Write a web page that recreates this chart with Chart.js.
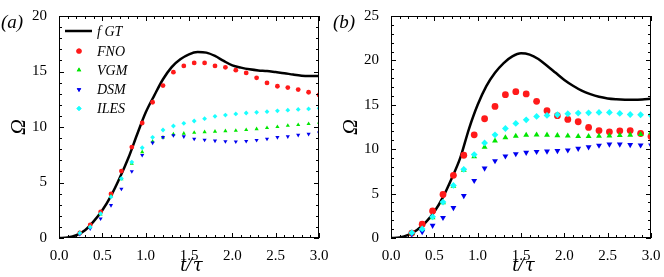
<!DOCTYPE html>
<html>
<head>
<meta charset="utf-8">
<script src="https://cdn.jsdelivr.net/npm/chart.js@4"></script>
<style>
  html, body { margin: 0; padding: 0; background: #fff; }
  .wrap { display: flex; width: 664px; height: 277px; }
  canvas { display: block; }
</style>
</head>
<body>
<div class="wrap">
  <canvas id="chartA" width="332" height="277"></canvas>
  <canvas id="chartB" width="332" height="277"></canvas>
</div>
<script>
// sample times of the model points and of the reference curve
const tPts = [0.24, 0.36, 0.48, 0.60, 0.72, 0.84, 0.96, 1.08, 1.20, 1.32, 1.44, 1.56,
              1.68, 1.80, 1.92, 2.04, 2.16, 2.28, 2.40, 2.52, 2.64, 2.76, 2.88, 3.00];
const tCurve = [0.0, 0.1, 0.2, 0.3, 0.4, 0.5, 0.6, 0.7, 0.8, 0.9, 1.0, 1.1, 1.2, 1.3, 1.4, 1.5,
                1.6, 1.7, 1.8, 1.9, 2.0, 2.1, 2.2, 2.3, 2.4, 2.5, 2.6, 2.7, 2.8, 2.9, 3.0];

// panel (a)
const fgtA = [0, 0.05, 0.25, 0.7, 1.5, 2.5, 3.8, 5.4, 7.2, 9.3, 11.3, 12.85, 14.3, 15.4, 16.1, 16.55,
              16.75, 16.7, 16.4, 15.95, 15.55, 15.35, 15.2, 15.1, 15.05, 14.95, 14.85, 14.72, 14.62, 14.6, 14.6];
const fnoA = [0.45, 1.17, 2.35, 3.97, 6.03, 8.19, 10.36, 12.23, 13.73, 14.94, 15.5, 15.77,
              15.77, 15.5, 15.38, 15.12, 14.87, 14.43, 13.97, 13.67, 13.55, 13.37, 13.13, 12.89];
const vgmA = [0.45, 1.0, 2.14, 3.77, 5.3, 6.7, 7.75, 8.7, 9.07, 9.35, 9.42, 9.5,
              9.55, 9.6, 9.64, 9.68, 9.75, 9.82, 9.92, 10.02, 10.12, 10.2, 10.28, 10.39];
const dsmA = [0.35, 0.85, 1.75, 2.95, 4.43, 6.0, 7.47, 8.58, 9.07, 9.25, 9.14, 8.93,
              8.84, 8.76, 8.7, 8.68, 8.73, 8.82, 8.93, 9.07, 9.14, 9.28, 9.37, 9.48];
const ilesA = [0.45, 0.99, 2.2, 3.7, 5.36, 6.84, 8.13, 9.07, 9.73, 10.09, 10.33, 10.54,
               10.75, 10.96, 11.07, 11.18, 11.26, 11.32, 11.38, 11.46, 11.52, 11.58, 11.63, 11.68];

// panel (b)
const fgtB = [0, 0.06, 0.35, 0.9, 1.75, 2.95, 4.6, 6.7, 9.05, 12.3, 15.0, 17.1, 18.6, 19.7, 20.45, 20.8,
              20.65, 20.15, 19.4, 18.6, 17.8, 17.15, 16.6, 16.2, 15.9, 15.72, 15.63, 15.58, 15.57, 15.6, 15.68];
const fnoB = [0.55, 1.55, 3.05, 4.9, 7.06, 9.32, 11.62, 13.43, 14.82, 16.14, 16.48, 16.22,
              15.39, 14.33, 13.77, 13.35, 13.09, 12.45, 12.1, 11.96, 12.07, 12.1, 11.77, 11.43];
const vgmB = [0.55, 1.0, 2.3, 3.98, 5.85, 7.66, 9.17, 10.23, 10.94, 11.31, 11.47, 11.58,
              11.62, 11.6, 11.55, 11.5, 11.45, 11.45, 11.48, 11.52, 11.56, 11.6, 11.68, 11.85];
const dsmB = [0.45, 0.68, 1.4, 2.3, 3.4, 4.75, 6.45, 7.85, 8.68, 9.21, 9.47, 9.62,
              9.72, 9.77, 9.82, 9.9, 10.08, 10.24, 10.42, 10.56, 10.55, 10.5, 10.45, 10.45];
const ilesB = [0.6, 1.02, 2.38, 4.04, 5.92, 7.73, 9.4, 10.71, 11.62, 12.33, 12.9, 13.31,
               13.69, 13.8, 13.88, 13.99, 14.07, 14.1, 14.14, 14.14, 14.03, 13.91, 13.88, 13.8];

const seriesNames = ['f GT', 'FNO', 'VGM', 'DSM', 'ILES'];
const xTickLabels = ['0.0', '0.5', '1.0', '1.5', '2.0', '2.5', '3.0'];

const SERIF = '"Liberation Serif", "DejaVu Serif", serif';
const colors = ['#000000', '#ff1a1a', '#00e600', '#0000f0', '#19ffff'];

function pairs(xs, ys) {
    return ys.map((y, i) => ({ x: xs[i], y: y }));
}

// box, inward ticks on all four sides, x title, panel tag and (optional) legend
const framePlugin = {
    id: 'frame',
    afterDraw(chart, args, opts) {
        const ctx = chart.ctx;
        const a = chart.chartArea;
        const xs = chart.scales.x, ys = chart.scales.y;
        ctx.save();
        ctx.strokeStyle = '#000';
        ctx.lineWidth = 1;
        ctx.strokeRect(a.left + 0.5, a.top + 0.5, a.right - a.left - 1, a.bottom - a.top - 1);
        ctx.beginPath();
        for (let i = 0; i <= 30; i++) {
            const v = i / 10;
            const px = Math.round(xs.getPixelForValue(v)) + 0.5;
            const len = i % 5 === 0 ? 5 : 3;
            ctx.moveTo(px, a.bottom); ctx.lineTo(px, a.bottom - len);
            ctx.moveTo(px, a.top); ctx.lineTo(px, a.top + len);
        }
        for (let v = 0; v <= ys.max; v++) {
            const py = Math.round(ys.getPixelForValue(v)) + 0.5;
            const len = v % 5 === 0 ? 5 : 3;
            ctx.moveTo(a.left, py); ctx.lineTo(a.left + len, py);
            ctx.moveTo(a.right, py); ctx.lineTo(a.right - len, py);
        }
        ctx.stroke();

        ctx.fillStyle = '#000';
        ctx.textBaseline = 'alphabetic';
        ctx.textAlign = 'left';

        // x axis title t/τ (τ taken from DejaVu Serif so it does not look like a t)
        const f1 = 'italic 21px ' + SERIF;
        const f2 = 'italic 18px "DejaVu Serif", serif';
        ctx.font = f1;
        const w1 = ctx.measureText('t/').width;
        ctx.font = f2;
        const w2 = ctx.measureText('τ').width;
        let x0 = (a.left + a.right) / 2 - (w1 + w2) / 2 + 2;
        ctx.font = f1;
        ctx.fillText('t/', x0, 271);
        ctx.font = f2;
        ctx.fillText('τ', x0 + w1 + 1, 271);

        ctx.font = 'italic 19px ' + SERIF;
        ctx.fillText(opts.tag, 1, 28);

        if (opts.legend) {
            const rows = [31, 51, 70, 89.5, 108.5];
            ctx.font = 'italic 14px ' + SERIF;
            ctx.textBaseline = 'middle';
            chart.data.datasets.forEach((ds, i) => {
                const y = rows[i];
                if (i === 0) {
                    ctx.strokeStyle = ds.borderColor;
                    ctx.lineWidth = 2.5;
                    ctx.beginPath();
                    ctx.moveTo(65, y); ctx.lineTo(92, y);
                    ctx.stroke();
                } else {
                    ctx.fillStyle = ds.backgroundColor;
                    Chart.helpers.drawPoint(ctx, {
                        pointStyle: ds.pointStyle,
                        rotation: ds.pointRotation || 0,
                        radius: 2.6,
                        borderWidth: 0
                    }, 79, y);
                    ctx.fill();
                }
                ctx.fillStyle = '#000';
                ctx.fillText(seriesNames[i], 97, y + 1);
            });
        }
        ctx.restore();
    }
};

function makeChart(id, tag, yMax, fgt, fno, vgm, dsm, iles, r, legend) {
    const pt = (label, data, color, style, rot, order) => ({
        type: 'scatter',
        label: label,
        data: pairs(tPts, data),
        backgroundColor: color,
        borderColor: color,
        borderWidth: 0,
        pointStyle: style,
        pointRotation: rot,
        pointRadius: r,
        order: order
    });
    new Chart(document.getElementById(id), {
        type: 'scatter',
        data: {
            datasets: [
                {
                    type: 'line',
                    label: seriesNames[0],
                    data: pairs(tCurve, fgt),
                    borderColor: colors[0],
                    backgroundColor: colors[0],
                    borderWidth: 2.5,
                    pointRadius: 0,
                    cubicInterpolationMode: 'monotone',
                    fill: false,
                    order: 5
                },
                pt(seriesNames[1], fno, colors[1], 'circle', 0, 4),
                pt(seriesNames[2], vgm, colors[2], 'triangle', 0, 3),
                pt(seriesNames[3], dsm, colors[3], 'triangle', 180, 2),
                pt(seriesNames[4], iles, colors[4], 'rectRot', 0, 1)
            ]
        },
        options: {
            responsive: false,
            animation: false,
            events: [],
            layout: { padding: { top: 16, right: 13, left: 0, bottom: 0 } },
            plugins: {
                legend: { display: false },
                tooltip: { enabled: false },
                frame: { tag: tag, legend: legend }
            },
            scales: {
                x: {
                    type: 'linear',
                    min: 0, max: 3,
                    grid: { display: false },
                    border: { display: false },
                    ticks: {
                        stepSize: 0.5,
                        color: '#000',
                        padding: 1,
                        maxRotation: 0,
                        font: { family: SERIF, size: 15 },
                        callback: (v) => xTickLabels[Math.round(v * 2)]
                    },
                    afterFit: (s) => { s.height = 39; }
                },
                y: {
                    min: 0, max: yMax,
                    grid: { display: false },
                    border: { display: false },
                    ticks: {
                        stepSize: 5,
                        color: '#000',
                        padding: 4,
                        font: { family: SERIF, size: 15 }
                    },
                    title: {
                        display: true,
                        text: 'Ω',
                        color: '#000',
                        font: { family: SERIF, size: 22, style: 'italic' },
                        padding: { top: 6, bottom: 0 }
                    },
                    afterFit: (s) => { s.width = 59; }
                }
            }
        },
        plugins: [framePlugin]
    });
}

makeChart('chartA', '(a)', 20, fgtA, fnoA, vgmA, dsmA, ilesA, 2.4, true);
makeChart('chartB', '(b)', 25, fgtB, fnoB, vgmB, dsmB, ilesB, 3.4, false);
</script>
</body>
</html>
